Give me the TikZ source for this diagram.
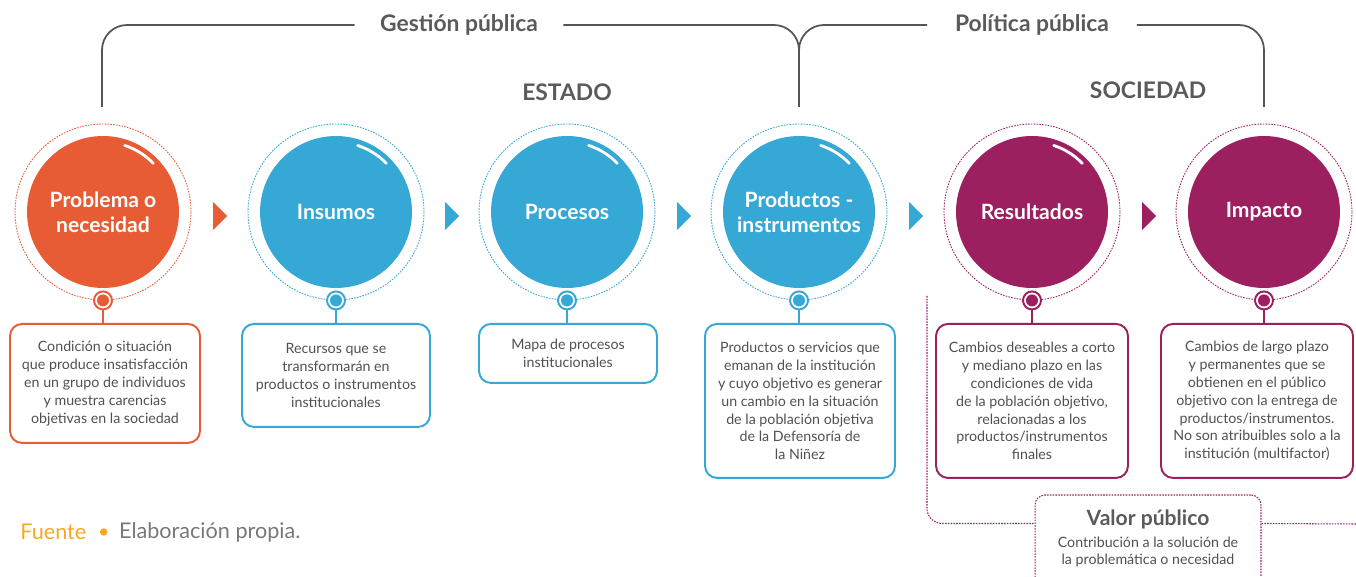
\documentclass[tikz,border=0pt]{standalone}
\usepackage{fontspec}
\setmainfont{Lato}
\usetikzlibrary{positioning,calc,shapes.geometric}

\definecolor{naranja}{HTML}{E85C35}
\definecolor{azul}{HTML}{35A8D6}
\definecolor{magenta}{HTML}{9C1F5F}
\definecolor{grisT}{HTML}{5A5A5A}
\definecolor{grisC}{HTML}{505050}
\definecolor{grisL}{HTML}{555555}
\definecolor{fuenteC}{HTML}{F7A823}
\definecolor{grisF}{HTML}{77787B}

\begin{document}
\begin{tikzpicture}[x=0.02cm, y=-0.02cm,
    etapa/.style={circle, minimum size=3.04cm, inner sep=0pt, text=white, align=center,
        font=\fontsize{12}{14.5}\selectfont\bfseries},
    anillo/.style={circle, draw, dash pattern=on 0.9pt off 0.7pt, line width=0.5pt, minimum size=3.52cm, inner sep=0pt},
    brillo/.style={white, line width=1.6pt, line cap=round},
    pin/.style={circle, draw, fill=white, line width=1.1pt, minimum size=0.36cm, inner sep=0pt},
    enlace/.style={line width=1.1pt},
    descr/.style={rectangle, rounded corners=0.24cm, draw, line width=1.1pt, align=center, anchor=north,
        text=grisC, inner sep=0pt, font=\fontsize{8.1}{10.2}\selectfont},
    flecha/.style={isosceles triangle, isosceles triangle stretches, minimum width=0.56cm,
        minimum height=0.28cm, inner sep=0pt},
    seccion/.style={text=grisT, font=\fontsize{13}{15}\selectfont\bfseries, inner xsep=0.5cm},
    actor/.style={text=grisT, font=\fontsize{13}{15}\selectfont\bfseries},
    llave/.style={draw=grisL, line width=1pt, rounded corners=0.5cm},
    punteado/.style={draw=magenta, dash pattern=on 0.9pt off 0.7pt, line width=0.6pt},
    ]

\clip (0,0) rectangle (1356,577);

% circulos de la cadena
\node[etapa, fill=naranja] (problema) at (103,212) {Problema o\\necesidad};
\node[anillo, draw=naranja] (problema-anillo) at (problema) {};
\node[etapa, fill=azul] (insumos) at (336,212) {Insumos};
\node[anillo, draw=azul] (insumos-anillo) at (insumos) {};
\node[etapa, fill=azul] (procesos) at (567,212) {Procesos};
\node[anillo, draw=azul] (procesos-anillo) at (procesos) {};
\node[etapa, fill=azul] (productos) at (799,212) {Productos -\\instrumentos};
\node[anillo, draw=azul] (productos-anillo) at (productos) {};
\node[etapa, fill=magenta] (resultados) at (1032,212) {Resultados};
\node[anillo, draw=magenta] (resultados-anillo) at (resultados) {};
\node[etapa, fill=magenta] (impacto) at (1264,212) {Impacto};
\node[anillo, draw=magenta] (impacto-anillo) at (impacto) {};

% brillos
\draw[brillo] ([shift={(44:1.4cm)}]problema.center) arc[start angle=44, end angle=72, radius=1.4cm];
\draw[brillo] ([shift={(44:1.4cm)}]insumos.center) arc[start angle=44, end angle=72, radius=1.4cm];
\draw[brillo] ([shift={(44:1.4cm)}]procesos.center) arc[start angle=44, end angle=72, radius=1.4cm];
\draw[brillo] ([shift={(44:1.4cm)}]productos.center) arc[start angle=44, end angle=72, radius=1.4cm];
\draw[brillo] ([shift={(44:1.4cm)}]resultados.center) arc[start angle=44, end angle=72, radius=1.4cm];

% flechas entre etapas
\node[flecha, fill=naranja] (f1) at (219,216) {};
\node[flecha, fill=azul] (f2) at (451,216) {};
\node[flecha, fill=azul] (f3) at (683,216) {};
\node[flecha, fill=azul] (f4) at (915,216) {};
\node[flecha, fill=magenta] (f5) at (1148,216) {};

% descripciones
\node[descr, draw=naranja, minimum width=3.8cm, minimum height=2.38cm] (problema-txt) at (105,323)
    {Condición o situación\\que produce insatisfacción\\en un grupo de individuos\\y muestra carencias\\objetivas en la sociedad};
\node[descr, draw=azul, minimum width=3.76cm, minimum height=2.06cm] (insumos-txt) at (336,323)
    {Recursos que se\\transformarán en\\productos o instrumentos\\institucionales};
\node[descr, draw=azul, minimum width=3.56cm, minimum height=1.18cm] (procesos-txt) at (568,323)
    {Mapa de procesos\\institucionales};
\node[descr, draw=azul, minimum width=3.8cm, minimum height=3.08cm] (productos-txt) at (800,323)
    {Productos o servicios que\\emanan de la institución\\y cuyo objetivo es generar\\un cambio en la situación\\de la población objetiva\\de la Defensoría de\\la Niñez};
\node[descr, draw=magenta, minimum width=3.84cm, minimum height=3.08cm] (resultados-txt) at (1032,323)
    {Cambios deseables a corto\\y mediano plazo en las\\condiciones de vida\\de la población objetivo,\\relacionadas a los\\productos/instrumentos\\finales};
\node[descr, draw=magenta, minimum width=3.84cm, minimum height=3.08cm] (impacto-txt) at (1257,323)
    {Cambios de largo plazo\\y permanentes que se\\obtienen en el público\\objetivo con la entrega de\\productos/instrumentos.\\No son atribuibles solo a la\\institución (multifactor)};

% pines y enlaces
\draw[enlace, naranja] (problema-anillo.south) -- (problema-anillo.south |- problema-txt.north);
\node[pin, draw=naranja] (problema-pin) at (problema-anillo.south) {};
\fill[naranja] (problema-pin) circle (0.12cm);
\draw[enlace, azul] (insumos-anillo.south) -- (insumos-anillo.south |- insumos-txt.north);
\node[pin, draw=azul] (insumos-pin) at (insumos-anillo.south) {};
\fill[azul] (insumos-pin) circle (0.12cm);
\draw[enlace, azul] (procesos-anillo.south) -- (procesos-anillo.south |- procesos-txt.north);
\node[pin, draw=azul] (procesos-pin) at (procesos-anillo.south) {};
\fill[azul] (procesos-pin) circle (0.12cm);
\draw[enlace, azul] (productos-anillo.south) -- (productos-anillo.south |- productos-txt.north);
\node[pin, draw=azul] (productos-pin) at (productos-anillo.south) {};
\fill[azul] (productos-pin) circle (0.12cm);
\draw[enlace, magenta] (resultados-anillo.south) -- (resultados-anillo.south |- resultados-txt.north);
\node[pin, draw=magenta] (resultados-pin) at (resultados-anillo.south) {};
\fill[magenta] (resultados-pin) circle (0.12cm);
\draw[enlace, magenta] (impacto-anillo.south) -- (impacto-anillo.south |- impacto-txt.north);
\node[pin, draw=magenta] (impacto-pin) at (impacto-anillo.south) {};
\fill[magenta] (impacto-pin) circle (0.12cm);

% llaves superiores
\coordinate (gp-a) at (102,107);
\coordinate (gp-b) at (799,107);
\coordinate (pp-b) at (1264,107);
\node[seccion] (gestion) at (459,25) {Gestión pública};
\node[seccion, inner xsep=0.55cm] (politica) at (1032,25) {Política pública};
\draw[llave] (gp-a) |- (gestion.west);
\draw[llave] (gestion.east) -| (gp-b);
\draw[llave] (gp-b) |- (politica.west);
\draw[llave] (politica.east) -| (pp-b);

\node[actor] (estado) at (567,92) {ESTADO};
\node[actor] (sociedad) at (1148,90) {SOCIEDAD};

% valor publico
\node[punteado, rectangle, rounded corners=0.2cm, minimum width=4.52cm, minimum height=2.2cm] (valor) at (1148,550) {};
\node[text=grisT, font=\fontsize{12}{14}\selectfont\bfseries] (valor-tit) at (1148,519) {Valor público};
\node[text=grisC, align=center, font=\fontsize{8.1}{10.2}\selectfont] (valor-txt) at (1148,552)
    {Contribución a la solución de\\la problemática o necesidad};
\coordinate (vp-a) at (927,296);
\coordinate (vp-b) at (1356,524);
\draw[punteado, rounded corners=0.3cm] (vp-a) |- ([yshift=-0.58cm]valor.north west);
\draw[punteado] ([yshift=-0.58cm]valor.north east) -- (vp-b);

% fuente
\node[anchor=west, text=fuenteC, font=\fontsize{12.3}{14}\selectfont, inner sep=0pt] (fuente) at (20,532) {Fuente};
\node[circle, fill=fuenteC, minimum size=0.15cm, inner sep=0pt, right=0.26cm of fuente] (punto) {};
\node[anchor=west, text=grisF, font=\fontsize{12.3}{14}\selectfont, inner sep=0pt, right=0.22cm of punto] (elaboracion) {Elaboración propia.};

\end{tikzpicture}
\end{document}
